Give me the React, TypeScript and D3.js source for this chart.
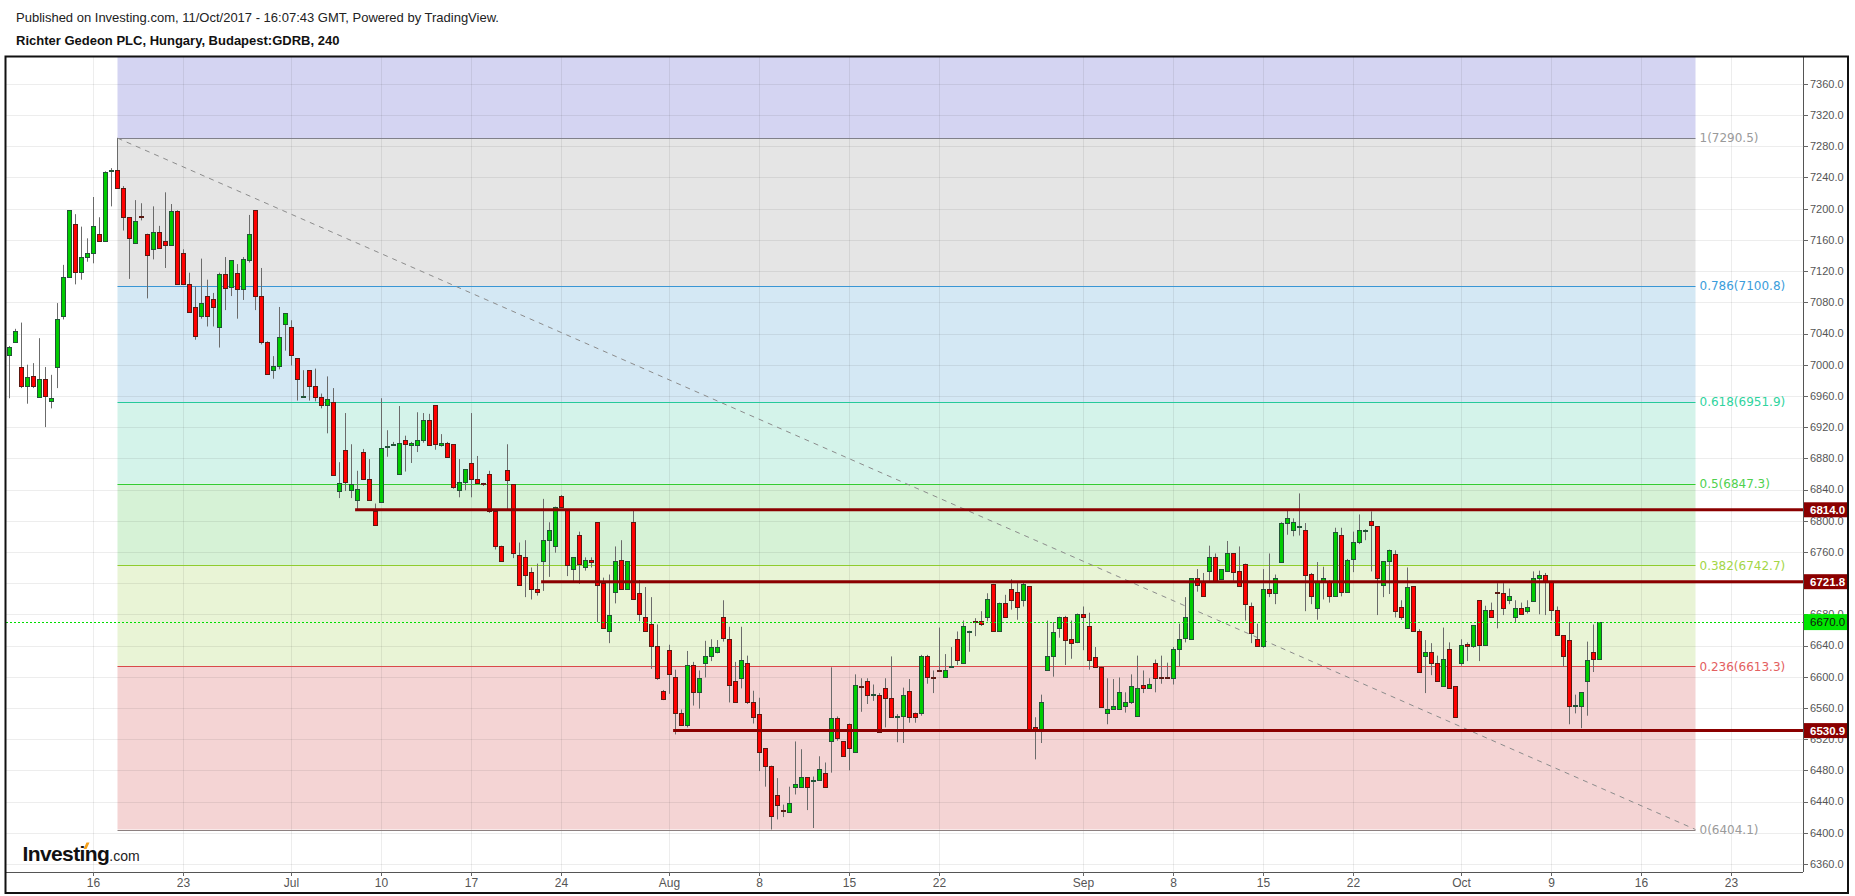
import React from 'react';
import * as d3 from 'd3';

// ---- Data (4h candles, Richter Gedeon, Jun–Oct 2017) ----
const opens = [
  7013,7029,6997,6973,6985,6959,6982,6953,6997,7062,7113,7180,7119,7138,7143,7168,7158,7248,7249,7226,
  7189,7156,7191,7168,7148,7170,7159,7153,7197,7143,7103,7074,7063,7088,7084,7048,7116,7100,7117,7097,
  7134,7198,7088,7029,6993,6998,7052,7048,7008,6959,6993,6973,6958,6948,6952,6838,6891,6839,6826,6888,
  6854,6812,6824,6895,6897,6860,6904,6897,6897,6903,6929,6948,6897,6900,6898,6839,6850,6874,6854,6848,
  6860,6812,6768,6865,6847,6756,6753,6734,6713,6748,6775,6768,6832,6815,6738,6782,6741,6750,6798,6720,
  6658,6708,6750,6713,6798,6707,6677,6668,6639,6582,6634,6600,6553,6538,6615,6581,6618,6626,6632,6677,
  6648,6595,6598,6618,6568,6552,6508,6486,6448,6429,6427,6458,6459,6471,6466,6467,6477,6517,6547,6517,
  6539,6504,6588,6595,6577,6577,6585,6573,6548,6549,6582,6553,6553,6627,6600,6609,6599,6613,6648,6618,
  6657,6672,6671,6677,6719,6659,6695,6712,6708,6698,6716,6536,6530,6609,6626,6662,6677,6648,6645,6681,
  6665,6625,6612,6553,6559,6559,6563,6568,6549,6589,6586,6618,6600,6600,6598,6636,6649,6648,6726,6721,
  6736,6754,6725,6736,6758,6735,6744,6691,6648,6639,6712,6707,6747,6797,6788,6792,6788,6732,6688,6723,
  6723,6704,6782,6708,6751,6773,6787,6800,6793,6718,6748,6757,6689,6663,6716,6658,6626,6632,6617,6588,
  6636,6588,6617,6642,6639,6698,6641,6685,6709,6707,6698,6677,6688,6684,6697,6727,6731,6722,6685,6653,
  6647,6563,6563,6595,6632,6623
];
const highs = [
  7024,7046,7054,7000,7002,7034,6997,6987,7079,7128,7198,7193,7177,7162,7215,7189,7248,7252,7290.5,7229,
  7189,7211,7207,7168,7203,7178,7221,7206,7198,7148,7118,7100,7136,7109,7092,7118,7138,7134,7129,7138,
  7192,7198,7124,7030,7011,7074,7066,7057,7008,6993,6993,6995,6963,6985,6970,6875,6938,6898,6864,6892,
  6879,6822,6957,6916,6901,6947,6909,6901,6939,6938,6937,6948,6911,6901,6898,6879,6866,6938,6883,6848.5,
  6864,6812,6768,6898,6847,6772,6775,6740,6745,6828,6798,6818,6833,6815,6753,6786,6753,6753,6798,6727,
  6731,6767,6775,6748,6813,6724,6715,6702,6667,6583,6641,6609,6558,6633,6619,6608,6646,6648,6647,6698,
  6664,6619,6664,6627,6582,6573,6508,6486,6470,6436,6459,6517,6507,6471,6472,6498,6490,6612,6549,6517,
  6540,6603,6598,6598,6590,6579,6598,6626,6552,6586,6597,6554,6628,6628,6608,6663,6629,6638,6658,6672,
  6659,6675,6684,6707,6719,6695,6705,6725,6720,6720,6716,6548,6577,6672,6670,6677,6678,6672,6681,6690,
  6682,6638,6613,6598,6597,6599,6580,6603,6627,6608,6598,6622,6627,6618,6638,6668,6702,6726,6738,6733,
  6768,6758,6738,6774,6758,6767,6745,6695,6668,6738,6758,6731,6798,6813,6803,6835,6797,6733,6747,6741,
  6724,6791,6791,6751,6786,6808,6789,6812,6793,6748,6763,6762,6698,6740,6716,6661,6647,6643,6627,6663,
  6644,6588,6648,6644,6666,6698,6691,6695,6720,6720,6713,6698,6695,6698,6735,6736,6733,6722,6690,6653,
  6670,6577,6580,6645,6667,6670
];
const lows = [
  6957,7028,6970,6950,6970,6959,6920,6944,6970,7058,7113,7103,7109,7132,7130,7158,7158,7203,7226,7172,
  7110,7155,7185,7085,7135,7150,7124,7153,7103,7103,7068,7032,7059,7049,7049,7022,7070,7088,7059,7083,
  7131,7070,7026,6988,6982,6994,7018,6999,6954,6958,6954,6953,6944,6912,6858,6829,6838,6829,6815,6854,
  6827,6794,6823,6882,6896,6859,6863,6874,6888,6900,6897,6891,6895,6882,6841,6830,6839,6830,6848,6844.5,
  6810,6763,6748,6813,6752,6718,6702,6699,6704,6710,6728,6759,6818,6729,6722,6719,6736,6740,6670,6662,
  6643,6694,6713,6713,6699,6671,6658,6610,6596,6570,6578,6526,6537,6535,6563,6559,6599,6620,6630,6645,
  6567,6568,6585,6565,6540,6479,6459,6404.1,6417,6420,6427,6449,6459,6429,6406,6467,6458,6477,6518,6498,
  6480,6504,6555,6565,6569,6529,6535,6548,6516,6515,6541,6541,6550,6591,6579,6607,6599,6612,6615,6618,
  6632,6652,6665,6671,6659,6659,6677,6686,6673,6690,6530,6494,6515,6609,6600,6650,6615,6623,6643,6634,
  6609,6613,6560,6539,6559,6559,6554,6565,6549,6579,6586,6580,6591,6599,6590,6613,6644,6648,6709,6703,
  6723,6722,6725,6736,6723,6716,6672,6643,6639,6637,6702,6693,6747,6782,6780,6781,6684,6693,6673,6699,
  6695,6704,6703,6708,6734,6770,6775,6735,6679,6702,6706,6676,6673,6663,6658,6605,6579,6602,6595,6588,
  6585,6548,6614,6620,6637,6620,6641,6677,6662,6679,6693,6670,6680,6681,6697,6680,6679,6672,6653,6613,
  6539,6553,6534,6550,6606,6622
];
const closes = [
  7023,7043,6973,6984,6973,6982,6960,6957,7058,7113,7198,7119,7138,7143,7178,7158,7247,7249,7226,7189,
  7163,7184,7189,7141,7170,7150,7153,7197,7103,7103,7068,7037,7079,7063,7074,7116,7098,7134,7097,7135,
  7167,7088,7029,6988,6998,7035,7066,7013,6982,6959.5,6973,6959,6948,6956,6858,6848,6850,6847,6841,6854,
  6827,6794,6893,6896,6898,6900,6898,6899,6904,6929,6897,6898,6900,6882,6843,6850,6866,6854,6848,6847,
  6813,6768,6748,6852,6758,6718,6731,6712,6708,6775,6788,6818,6818,6743,6753,6744,6750,6747,6718,6662,
  6679,6748,6713,6748,6699,6680,6658,6639,6598,6572,6604,6553,6538,6615,6581,6598,6627,6638,6638,6649,
  6590,6568,6622,6568,6548,6504,6486,6422,6435,6428,6438,6463,6471,6458,6467,6482,6458,6547,6521,6498,
  6509,6589,6587,6577,6578,6529,6573,6548,6549,6577,6548,6548,6626,6599,6599,6608,6609,6614,6621,6665,
  6658,6671,6667,6699,6659,6695,6677,6698,6689,6719,6532,6531,6567,6627,6657,6677,6647,6643,6681,6677,
  6622,6613,6561,6558,6563,6580,6567,6588,6586,6585,6591,6598,6599,6599,6636,6648,6677,6726,6718,6703,
  6754,6722,6738,6758,6734,6716,6693,6656,6639,6712,6707,6727,6797,6803,6798,6793,6731,6703,6723,6726,
  6703,6786,6708,6750,6773,6788,6788,6794,6727,6748,6763,6684,6677,6715,6658,6606,6632,6617,6595,6623,
  6585,6548,6641,6639,6666,6641,6685,6677,6707,6688,6704,6688,6680,6689,6727,6731,6723,6685,6653,6626,
  6563,6564,6580,6622,6623,6670
];

// x-axis date ticks (candle index) and their labels
const tickIndex = [14, 29, 47, 62, 77, 92, 110, 125, 140, 155, 179, 194, 209, 224, 242, 257, 272, 287];
const tickLabels = ['16', '23', 'Jul', '10', '17', '24', 'Aug', '8', '15', '22', 'Sep', '8', '15', '22', 'Oct', '9', '16', '23'];

// Fibonacci retracement drawing
const fibHigh = 7290.5;
const fibLow = 6404.1;
const fibStartIdx = 18;
const fibEndIdx = 281;
const fibBandRatios = [1.618, 1, 0.786, 0.618, 0.5, 0.382, 0.236, 0];
const fibBandFills = ['#d4d4f2', '#e5e5e5', '#d4e8f4', '#d4f3ea', '#d6f2d6', '#e9f4d6', '#f4d4d4'];
const fibLevels = [1, 0.786, 0.618, 0.5, 0.382, 0.236, 0];
const fibLineColors = ['#80808a', '#3a96d4', '#26c99a', '#33cc33', '#8fcc2e', '#d94a4a', '#8c8080'];
const fibTextColors = ['#9a9a9a', '#3b9ddb', '#2fd49e', '#4fd14f', '#a3d646', '#e36060', '#9a9a9a'];

// Horizontal support / resistance lines
const levelPrices = [6814.0, 6721.8, 6530.9];
const levelStartIdx = [57.6, 88.6, 110.6];
const lastPrice = 6670.0;

const yTickValues = d3.range(6360, 7361, 40);

export default function App() {
  const W = 1855;
  const H = 896;
  const left = 6;
  const right = 1803;
  const top = 57;
  const bottom = 872;

  const x = d3.scaleLinear().domain([0, 265]).range([9.5, 1599.5]);
  const y = d3.scaleLinear().domain([7280, 6360]).range([146.3, 863.9]);

  const fibRange = fibHigh - fibLow;
  const fibX0 = x(fibStartIdx);
  const fibX1 = x(fibEndIdx);
  const fibPrice = (r: number) => fibLow + r * fibRange;

  const candles = opens.map((o, i) => ({ i, o, h: highs[i], l: lows[i], c: closes[i] }));

  const font = "'Liberation Sans', Arial, sans-serif";

  return (
    <svg
      width={W}
      height={H}
      style={{ position: 'absolute', left: 0, top: 0, background: '#fff' }}
      xmlns="http://www.w3.org/2000/svg"
    >
      <defs>
        <clipPath id="plot">
          <rect x={left} y={top} width={right - left} height={bottom - top} />
        </clipPath>
      </defs>

      {/* Header */}
      <text x={16} y={21.8} fontFamily={font} fontSize={13} fill="#222">
        Published on Investing.com, 11/Oct/2017 - 16:07:43 GMT, Powered by TradingView.
      </text>
      <text x={16} y={45.3} fontFamily={font} fontSize={13} fontWeight="bold" fill="#111">
        Richter Gedeon PLC, Hungary, Budapest:GDRB, 240
      </text>

      <g clipPath="url(#plot)">
        {/* Fibonacci bands */}
        {fibBandFills.map((f, k) => {
          const yTop = y(fibPrice(fibBandRatios[k]));
          const yBot = y(fibPrice(fibBandRatios[k + 1]));
          return <rect key={'fb' + k} x={fibX0} y={yTop} width={fibX1 - fibX0} height={yBot - yTop} fill={f} />;
        })}

        {/* Grid */}
        {yTickValues.map((v) => (
          <line key={'hg' + v} x1={left} x2={right} y1={Math.round(y(v)) + 0.5} y2={Math.round(y(v)) + 0.5} stroke="rgba(0,0,0,0.07)" />
        ))}
        {tickIndex.map((t) => (
          <line key={'vg' + t} x1={x(t)} x2={x(t)} y1={top} y2={bottom} stroke="rgba(0,0,0,0.07)" />
        ))}

        {/* Fibonacci level lines */}
        {fibLevels.map((r, k) => {
          const yy = Math.round(y(fibPrice(r))) + 0.5;
          return <line key={'fl' + k} x1={fibX0} x2={fibX1} y1={yy} y2={yy} stroke={fibLineColors[k]} strokeWidth={1} />;
        })}

        {/* Trend (diagonal) dashed line */}
        <line
          x1={fibX0}
          y1={y(fibHigh)}
          x2={fibX1}
          y2={y(fibLow)}
          stroke="#8c8c8c"
          strokeWidth={1}
          strokeDasharray="5 5"
        />

        {/* Candles */}
        {candles.map((d) => {
          const cx = x(d.i);
          const up = d.c >= d.o;
          const yHi = Math.round(y(Math.max(d.o, d.c)));
          const yLo = Math.round(y(Math.min(d.o, d.c)));
          const hBody = Math.max(1, yLo - yHi);
          return (
            <g key={'c' + d.i}>
              <line x1={cx} x2={cx} y1={y(d.h)} y2={y(d.l)} stroke="#6b6b6b" strokeWidth={1} />
              <rect
                x={cx - 2}
                y={yHi + 0.5}
                width={4}
                height={hBody}
                fill={up ? '#00cc00' : '#ff0000'}
                stroke={up ? '#225437' : '#5b1a13'}
                strokeWidth={1}
              />
            </g>
          );
        })}

        {/* Support / resistance lines */}
        {levelPrices.map((p, k) => (
          <line
            key={'lv' + k}
            x1={x(levelStartIdx[k])}
            x2={right}
            y1={y(p)}
            y2={y(p)}
            stroke="#8b0000"
            strokeWidth={3}
          />
        ))}

        {/* Last price dotted line */}
        <line
          x1={left}
          x2={right}
          y1={Math.round(y(lastPrice)) + 0.5}
          y2={Math.round(y(lastPrice)) + 0.5}
          stroke="#00dd00"
          strokeWidth={1}
          strokeDasharray="2 2"
        />
      </g>

      {/* Fibonacci labels */}
      {fibLevels.map((r, k) => (
        <text
          key={'ft' + k}
          x={fibX1 + 4}
          y={y(fibPrice(r))}
          dy="0.35em"
          fontFamily="'DejaVu Sans', Verdana, sans-serif"
          fontSize={12}
          fill={fibTextColors[k]}
        >
          {`${r}(${fibPrice(r).toFixed(1)})`}
        </text>
      ))}

      {/* Investing.com logo */}
      <text x={22.5} y={861} fontFamily={font} fill="#111">
        <tspan fontSize={21} fontWeight="bold" letterSpacing={-0.6}>Investing</tspan>
        <tspan fontSize={14} fill="#222">.com</tspan>
      </text>
      <polygon points="83.5,849 86.5,849 89.5,842.5 86.5,842.5" fill="#f5a01a" />

      {/* Price axis */}
      <line x1={right + 0.5} x2={right + 0.5} y1={top} y2={bottom} stroke="#555" strokeWidth={1} />
      {yTickValues.map((v) => (
        <g key={'yt' + v}>
          <line x1={right} x2={right + 5} y1={Math.round(y(v)) + 0.5} y2={Math.round(y(v)) + 0.5} stroke="#666" />
          <text x={right + 7} y={y(v)} dy="0.35em" fontFamily={font} fontSize={11} fill="#555">
            {v.toFixed(1)}
          </text>
        </g>
      ))}

      {/* Level labels on the price axis */}
      {levelPrices.map((p, k) => (
        <g key={'lb' + k}>
          <rect x={right + 1} y={y(p) - 7.5} width={1848 - right - 1} height={15} fill="#8b0000" />
          <text x={right + 7} y={y(p)} dy="0.36em" fontFamily={font} fontSize={11.5} fontWeight="bold" fill="#fff">
            {p.toFixed(1)}
          </text>
        </g>
      ))}
      <rect x={right + 1} y={y(lastPrice) - 8} width={1848 - right - 1} height={16} fill="#00e600" />
      <text x={right + 7} y={y(lastPrice)} dy="0.36em" fontFamily={font} fontSize={11.5} fill="#111">
        {lastPrice.toFixed(1)}
      </text>

      {/* Time axis */}
      <line x1={left} x2={right} y1={bottom + 0.5} y2={bottom + 0.5} stroke="#555" strokeWidth={1} />
      {tickIndex.map((t, k) => (
        <g key={'xt' + t}>
          <line x1={x(t)} x2={x(t)} y1={bottom} y2={bottom + 4} stroke="#666" />
          <text x={x(t)} y={887} textAnchor="middle" fontFamily={font} fontSize={12} fill="#555">
            {tickLabels[k]}
          </text>
        </g>
      ))}

      {/* Outer frame */}
      <rect x={5.5} y={56.5} width={1842.5} height={836.5} fill="none" stroke="#111" strokeWidth={2} />
    </svg>
  );
}
